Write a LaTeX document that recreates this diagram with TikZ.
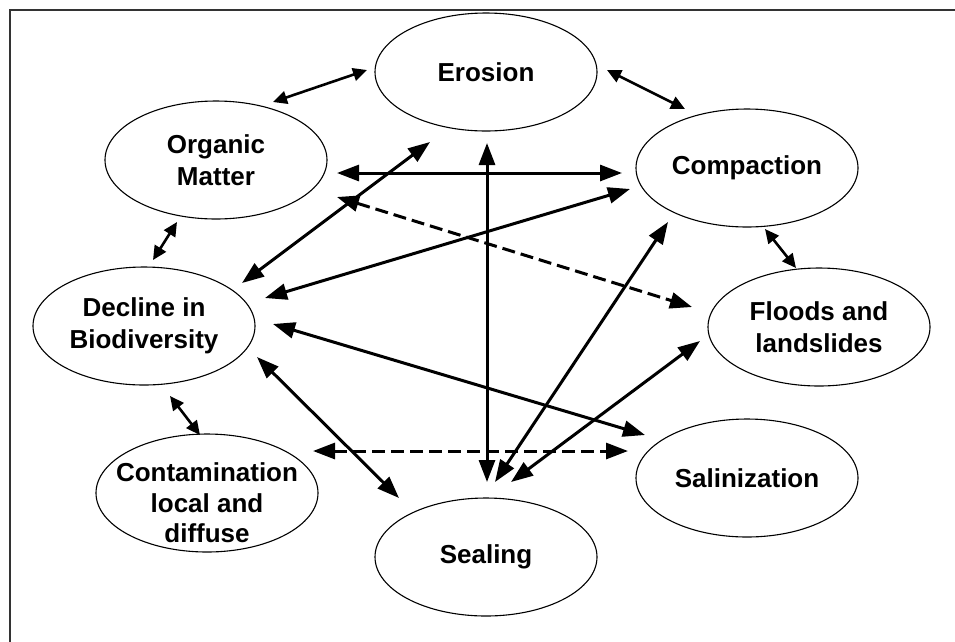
\documentclass[tikz,border=0pt]{standalone}
\usepackage{fontspec}
\setmainfont{Liberation Sans}
\usetikzlibrary{arrows.meta,calc,shapes.geometric}
\begin{document}
\begin{tikzpicture}[x=1pt,y=-1pt,
  blob/.style={draw,ellipse,line width=1.1pt,minimum width=222pt,minimum height=118pt,inner sep=0pt},
  lab/.style={font=\fontsize{26}{32}\selectfont\bfseries,align=center},
  tipk/.tip={Triangle[length=22pt,width=16pt]},
  tips/.tip={Triangle[length=14pt,width=13pt]},
  dbl/.style={line width=3pt,tipk-tipk},
  sdbl/.style={line width=2.6pt,tips-tips},
  dsh/.style={dbl,dash pattern=on 13pt off 6pt}]
\useasboundingbox (0,0) rectangle (955,641);
\clip (0,0) rectangle (955,641);
\fill[white] (0,0) rectangle (955,641);
\draw[line width=2pt,black!80] (10,10) rectangle (1000,700);

\node[blob,lab] (ero) at (486,72) {Erosion};
\node[blob,lab] (org) at (216,160) {Organic\\Matter};
\node[blob,lab] (comp) at (747,168) {Compaction};
\node[blob,lab] (dec) at (144,326) {Decline in\\Biodiversity};
\node[blob,lab] (flo) at (819,327) {Floods and\\landslides};
\node[blob] (con) at (207,493) {};
\node[lab,font=\fontsize{26}{30.5}\selectfont\bfseries] (contxt) at (207,503) {Contamination\\local and\\diffuse};
\node[blob,lab] (seal) at (486,557) {Sealing};
\node[blob,lab] (sal) at (747,478) {Salinization};

\draw[sdbl] ($(org)+(57,-58)$) -- ($(ero)+(-119,-2)$);
\draw[sdbl] ($(ero)+(121,-2)$) -- ($(comp)+(-62,-59)$);
\draw[sdbl] ($(org)+(-39,62)$) -- ($(dec)+(9,-66)$);
\draw[sdbl] ($(comp)+(18,61)$) -- ($(flo)+(-23,-59)$);
\draw[sdbl] ($(dec)+(26,70)$) -- ($(con)+(-7,-58)$);
\draw[dbl] ($(org)+(121,13)$) -- ($(comp)+(-125,5)$);
\draw[dbl] ($(dec)+(98,-43)$) -- ($(ero)+(-56,70)$);
\draw[dbl] ($(dec)+(121,-28)$) -- ($(comp)+(-117,21)$);
\draw[dsh] ($(org)+(121,37)$) -- ($(flo)+(-127,-20)$);
\draw[dbl] ($(ero)+(1,71)$) -- ($(seal)+(1,-75)$);
\draw[dbl] ($(dec)+(129,-2)$) -- ($(sal)+(-102,-43)$);
\draw[dbl] ($(dec)+(113,31)$) -- ($(seal)+(-87,-59)$);
\draw[dsh] ($(con)+(106,-42)$) -- ($(sal)+(-119,-27)$);
\draw[dbl] ($(seal)+(9,-75)$) -- ($(comp)+(-79,54)$);
\draw[dbl] ($(seal)+(25,-75)$) -- ($(flo)+(-119,14)$);
\end{tikzpicture}
\end{document}
